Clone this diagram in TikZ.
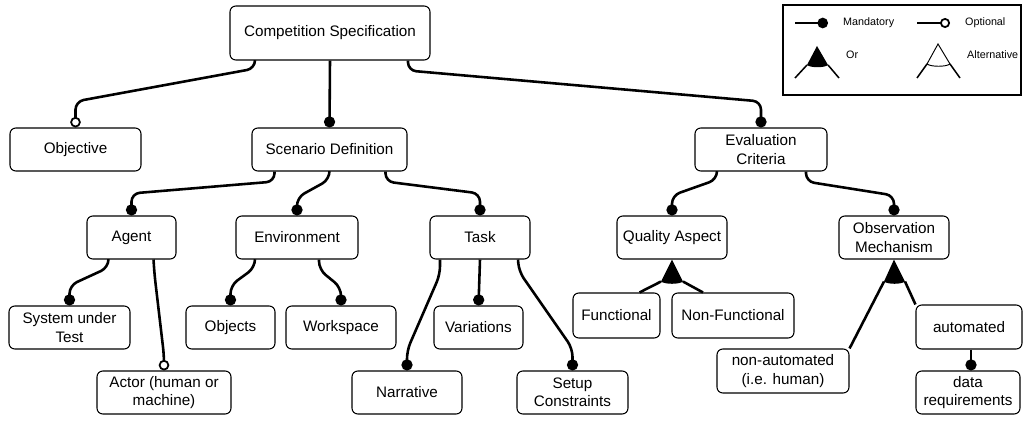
\documentclass[tikz,border=0pt]{standalone}
\usepackage{fontspec}
\setmainfont{Liberation Sans}
\usepackage{tikz}
\usetikzlibrary{arrows.meta, calc}

\begin{document}
\begin{tikzpicture}[
    x=0.03cm, y=-0.03cm,
    feature/.style={rectangle, draw, rounded corners=5pt, line width=0.9pt, inner sep=1pt, align=center, font=\fontsize{13}{15.5}\selectfont},
    sz/.style 2 args={minimum width=#1*0.3mm, minimum height=#2*0.3mm},
    link/.style={line width=2.2pt, rounded corners=7pt},
    mandatory/.style={link, -{Circle[length=9.5pt, width=9.5pt]}},
    optional/.style={link, -{Circle[open, length=9pt, width=9pt, line width=1.5pt, fill=white]}},
    legtext/.style={font=\fontsize{9.2}{11}\selectfont, anchor=west, inner sep=0pt}
]
    \useasboundingbox (0,0) rectangle (1024,422);

    % features
    \node (cs) [feature, sz={200}{54}] at (330,33) {Competition Specification};
    \node (obj) [feature, sz={131}{43}] at (75.5,149.5) {Objective};
    \node (sd) [feature, sz={155}{43}] at (329.5,149.5) {Scenario Definition};
    \node (ec) [feature, sz={132}{43}] at (761,149.5) {Evaluation\\Criteria};
    \node (agent) [feature, sz={89}{43}] at (131.5,237.5) {Agent};
    \node (env) [feature, sz={122}{43}] at (297,237.5) {Environment};
    \node (task) [feature, sz={100}{43}] at (480,237.5) {Task};
    \node (qa) [feature, sz={110}{43}] at (672,237.5) {Quality Aspect};
    \node (om) [feature, sz={110}{43}] at (894,237.5) {Observation\\Mechanism};
    \node (sut) [feature, sz={121}{43}] at (69.5,327.5) {System under\\Test};
    \node (actor) [feature, sz={134}{43}] at (164,392.5) {Actor (human or\\machine)};
    \node (objs) [feature, sz={89}{43}] at (230.5,327.5) {Objects};
    \node (ws) [feature, sz={110}{43}] at (341,327.5) {Workspace};
    \node (var) [feature, sz={89}{43}] at (478.5,327.5) {Variations};
    \node (narr) [feature, sz={110}{43}] at (407,392.5) {Narrative};
    \node (setup) [feature, sz={111}{43}] at (572.5,392.5) {Setup\\Constraints};
    \node (func) [feature, sz={87}{45}] at (616.5,315.5) {Functional};
    \node (nf) [feature, sz={122}{45}] at (733,315.5) {Non-Functional};
    \node (auto) [feature, sz={106}{44}] at (969,327) {automated};
    \node (nonauto) [feature, sz={132}{44}] at (783,371) {non-automated\\(i.e. human)};
    \node (data) [feature, sz={104}{43}] at (968,392.5) {data\\requirements};

    % mandatory / optional links
    \draw[optional] ($(cs.south)+(-75,0)$) -- ++(0,8) -- ($(obj.north)+(0,-26)$) -- (obj.north);
    \draw[mandatory] (cs.south) -- (sd.north);
    \draw[mandatory] ($(cs.south)+(78,0)$) -- ++(0,10) -- ($(ec.north)+(0,-26)$) -- (ec.north);
    \draw[mandatory] ($(sd.south)+(-55,0)$) -- ++(0,10) -- ($(agent.north)+(0,-22)$) -- (agent.north);
    \draw[mandatory] (sd.south) -- ++(0,8) -- ($(env.north)+(0,-18)$) -- (env.north);
    \draw[mandatory] ($(sd.south)+(56,0)$) -- ++(0,10) -- ($(task.north)+(0,-22)$) -- (task.north);
    \draw[mandatory] ($(ec.south)+(-44,0)$) -- ++(0,8) -- ($(qa.north)+(0,-20)$) -- (qa.north);
    \draw[mandatory] ($(ec.south)+(45,0)$) -- ++(0,10) -- ($(om.north)+(0,-20)$) -- (om.north);
    \draw[mandatory] ($(agent.south)+(-23,0)$) -- ++(0,8) -- ($(sut.north)+(0,-20)$) -- (sut.north);
    \draw[optional] ($(agent.south)+(22,0)$) -- ++(1,15) -- ($(actor.north)+(0,-15)$) -- (actor.north);
    \draw[mandatory] ($(env.south)+(-42,0)$) -- ++(0,8) -- ($(objs.north)+(0,-20)$) -- (objs.north);
    \draw[mandatory] ($(env.south)+(22,0)$) -- ++(0,10) -- ($(ws.north)+(0,-18)$) -- (ws.north);
    \draw[mandatory] ($(task.south)+(-40,0)$) -- ++(0,15) -- ($(narr.north)+(0,-20)$) -- (narr.north);
    \draw[mandatory] (task.south) -- (var.north);
    \draw[mandatory] ($(task.south)+(38,0)$) -- ++(1,12) -- ($(setup.north)+(0,-22)$) -- (setup.north);
    \draw[mandatory] ($(auto.south)+(2,0)$) -- ($(data.north)+(3,0)$);

    % or groups
    \coordinate (qaL) at ($(qa.south)+(-11,22)$);
    \coordinate (qaR) at ($(qa.south)+(11,22)$);
    \fill (qa.south) -- (qaL) .. controls ($(qaL)+(4,3)$) and ($(qaR)+(-4,3)$) .. (qaR) -- cycle;
    \draw[link] (qaL) -- ($(func.north)+(23,0)$);
    \draw[link] (qaR) -- ($(nf.north)+(-30,0)$);

    \coordinate (omL) at ($(om.south)+(-10,22)$);
    \coordinate (omR) at ($(om.south)+(11,22)$);
    \fill (om.south) -- (omL) .. controls ($(omL)+(4,3)$) and ($(omR)+(-4,3)$) .. (omR) -- cycle;
    \draw[link] (omL) -- (nonauto.north east);
    \draw[link] (omR) -- (auto.north west);

    % legend
    \draw[line width=0.9pt] (783,5) rectangle (1021,95);
    \coordinate (m0) at (795,23);
    \coordinate (m1) at (828,23);
    \draw[line width=1.8pt, -{Circle[length=9pt, width=9pt]}] (m0) -- (m1);
    \node (mandlbl) [legtext] at (843,23) {Mandatory};
    \coordinate (o0) at (917,23);
    \coordinate (o1) at (950,23);
    \draw[line width=1.8pt, -{Circle[open, length=8.5pt, width=8.5pt, line width=1.5pt, fill=white]}] (o0) -- (o1);
    \node (optlbl) [legtext] at (965,23) {Optional};

    \coordinate (orA) at (817,46);
    \coordinate (orL) at (807,65);
    \coordinate (orR) at (828,65);
    \fill (orA) -- (orL) .. controls (811,68) and (824,68) .. (orR) -- cycle;
    \draw[line width=1.3pt] (orL) -- (795,78);
    \draw[line width=1.3pt] (orR) -- (839,78);
    \node (orlbl) [legtext] at (846,55) {Or};

    \coordinate (altA) at (938,44);
    \coordinate (altL) at (927,64);
    \coordinate (altR) at (950,64);
    \draw[line width=0.8pt] (altA) -- (altL) .. controls (931,67) and (946,67) .. (altR) -- cycle;
    \draw[line width=1.3pt] (altL) -- (917,78);
    \draw[line width=1.3pt] (altR) -- (960,78);
    \node (altlbl) [legtext] at (967,55) {Alternative};
\end{tikzpicture}
\end{document}
